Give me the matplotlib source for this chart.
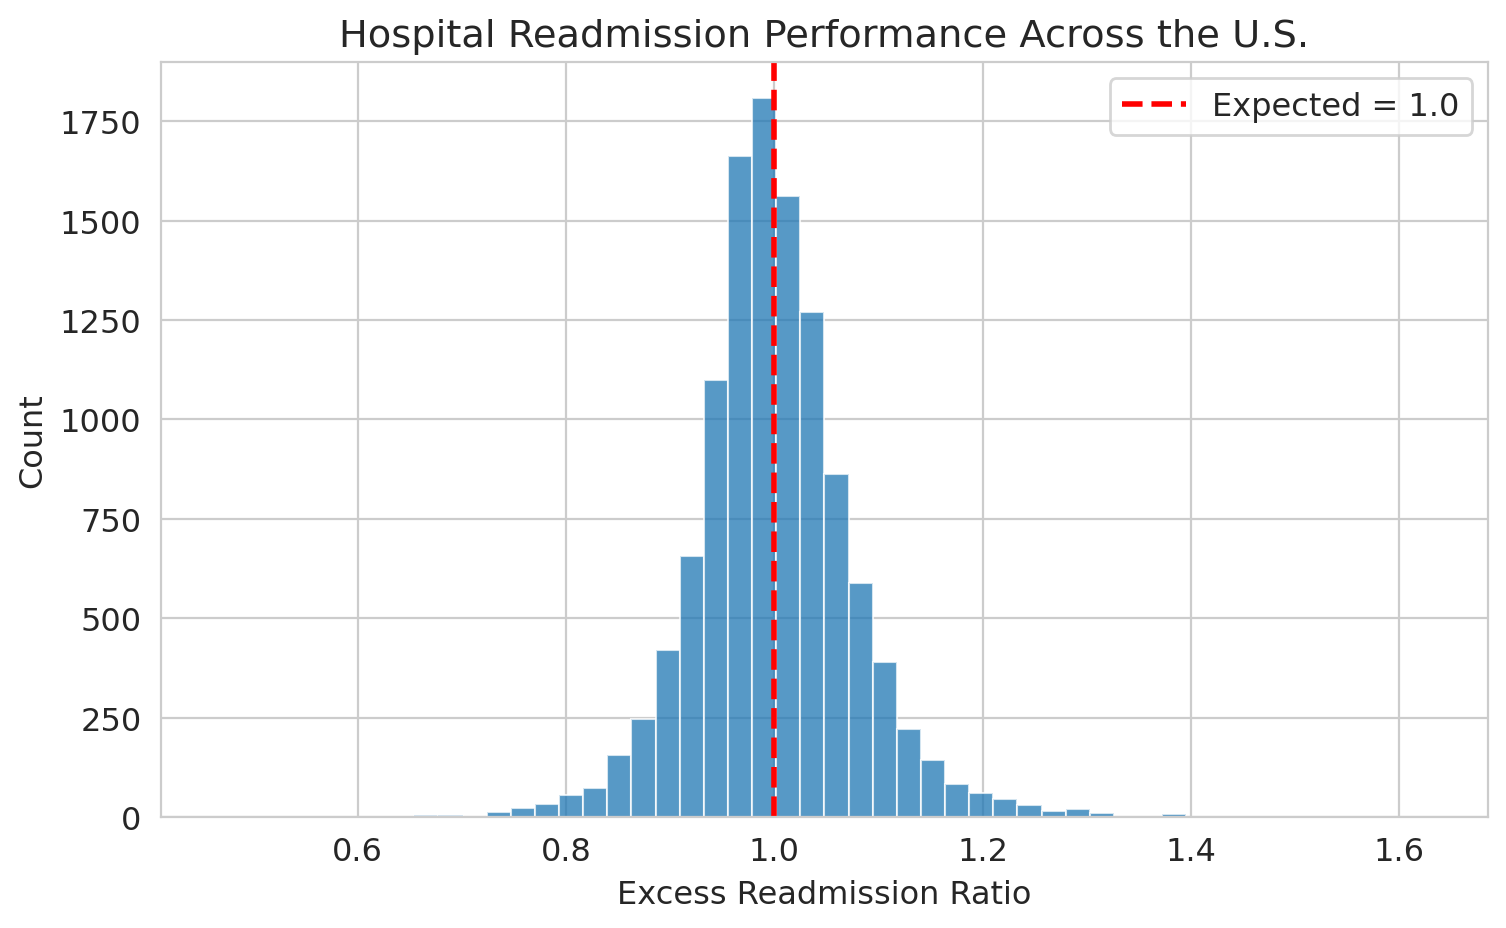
import numpy as np
import matplotlib
matplotlib.use("Agg")
import matplotlib.pyplot as plt
import seaborn as sns

# Histogram: 50 equal bins from 0.4692 to 1.6272
bin_start = 0.4692
bin_width = 0.02316
counts = [1, 0, 0, 0, 0, 0, 0, 0, 5, 4,
          0, 13, 23, 33, 55, 74, 155, 247, 419, 657,
          1099, 1663, 1808, 1562, 1269, 862, 588, 390, 221, 144,
          82, 60, 46, 31, 16, 21, 11, 0, 0, 7,
          0, 0, 0, 0, 0, 0, 0, 0, 0, 1]

edges = bin_start + bin_width * np.arange(len(counts) + 1)
centers = (edges[:-1] + edges[1:]) / 2

sns.set_style("whitegrid")
plt.rcParams["font.size"] = 11.5

fig = plt.figure(figsize=(7.53, 4.645), dpi=200)
ax = fig.add_axes([0.1069, 0.1195, 0.8811, 0.8125])

ax.hist(centers, bins=edges, weights=counts, color="C0", alpha=0.75,
        edgecolor="white", linewidth=0.75)
ax.axvline(1.0, color="red", linestyle="--", linewidth=2, label="Expected = 1.0")

ax.set_title("Hospital Readmission Performance Across the U.S.", fontsize=13.8)
ax.set_xlabel("Excess Readmission Ratio")
ax.set_ylabel("Count")
ax.legend(loc="upper right")

fig.savefig("out.png", dpi=200)
